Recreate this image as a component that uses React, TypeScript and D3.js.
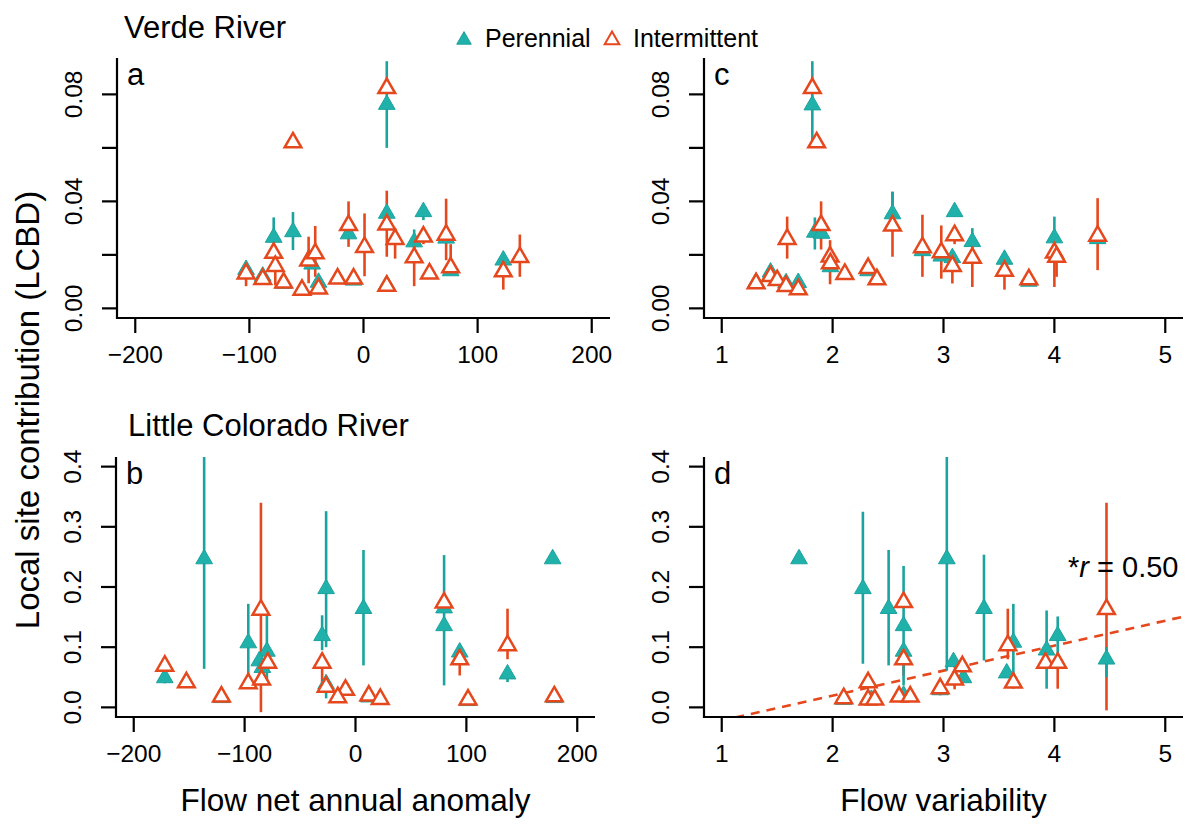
import React from 'react';
import * as d3 from 'd3';

// ---------- data: [x, LCBD, lower, upper] ----------
// Verde River, flow net annual anomaly (panel a)
const verdeAnomPerennial: number[][] = [
  [-102.9, 0.0145, 0.0145, 0.0145], [-88.3, 0.012, 0.012, 0.012], [-78.7, 0.0265, 0.017, 0.034],
  [-61.8, 0.0286, 0.0218, 0.036], [-45, 0.0165, 0.0165, 0.0165], [-39.4, 0.0097, 0.0097, 0.0097],
  [-8.7, 0.0105, 0.0105, 0.0105], [-13.1, 0.0278, 0.0278, 0.0278], [20.4, 0.0355, 0.0355, 0.0355],
  [20.4, 0.0089, 0.0089, 0.0089], [20.4, 0.0762, 0.06, 0.0924], [52.5, 0.0361, 0.033, 0.038],
  [44.4, 0.0248, 0.02, 0.0295], [72.4, 0.0262, 0.0262, 0.0262], [76.4, 0.014, 0.014, 0.014],
  [122.5, 0.018, 0.018, 0.018], [-70, 0.0093, 0.0093, 0.0093],
];
const verdeAnomIntermittent: number[][] = [
  [-61.8, 0.062, 0.062, 0.062], [-78.7, 0.0207, 0.0207, 0.0207], [-77.3, 0.0158, 0.0086, 0.02],
  [-102.9, 0.013, 0.0083, 0.013], [-88.3, 0.0109, 0.0109, 0.0109], [-70, 0.0096, 0.0096, 0.0096],
  [-53.9, 0.0069, 0.0069, 0.0069], [-48.1, 0.0178, 0.0094, 0.0268], [-42.3, 0.0205, 0.0118, 0.0308],
  [-39.4, 0.0074, 0.0074, 0.0074], [-22.7, 0.0111, 0.0111, 0.0111], [-8.7, 0.0111, 0.0111, 0.0111],
  [-13.1, 0.0311, 0.023, 0.04], [0.9, 0.0229, 0.012, 0.0355], [20.4, 0.0313, 0.0193, 0.044],
  [27.7, 0.0259, 0.0186, 0.03], [20.4, 0.0084, 0.0084, 0.0084], [20.4, 0.0823, 0.0823, 0.0823],
  [52.5, 0.0268, 0.024, 0.03], [44.4, 0.019, 0.0083, 0.024], [57.8, 0.013, 0.013, 0.013],
  [72.4, 0.0275, 0.018, 0.041], [76.4, 0.0153, 0.013, 0.024], [122.5, 0.0138, 0.007, 0.016],
  [137, 0.0191, 0.0118, 0.0276],
];
// Verde River, flow variability (panel c)
const verdeVarPerennial: number[][] = [
  [1.817, 0.076, 0.063, 0.0924], [1.84, 0.0284, 0.022, 0.034], [1.9, 0.028, 0.028, 0.028],
  [1.98, 0.0155, 0.0155, 0.0155], [1.44, 0.0135, 0.0135, 0.0135], [1.58, 0.0095, 0.0095, 0.0095],
  [1.69, 0.0096, 0.0096, 0.0096], [1.31, 0.0098, 0.0098, 0.0098], [2.32, 0.014, 0.014, 0.014],
  [2.54, 0.0353, 0.0353, 0.0436], [2.81, 0.0215, 0.0215, 0.0215], [2.98, 0.0195, 0.0195, 0.0195],
  [3.1, 0.0361, 0.0361, 0.0361], [3.08, 0.0189, 0.0189, 0.0189], [3.26, 0.0249, 0.02, 0.03],
  [3.55, 0.0183, 0.0183, 0.0183], [3.77, 0.0101, 0.0101, 0.0101], [4.0, 0.0263, 0.02, 0.0343],
  [4.39, 0.026, 0.026, 0.026],
];
const verdeVarIntermittent: number[][] = [
  [1.817, 0.0823, 0.0823, 0.0823], [1.856, 0.062, 0.062, 0.062], [1.59, 0.0259, 0.0186, 0.0343],
  [1.896, 0.0311, 0.022, 0.04], [1.977, 0.0193, 0.009, 0.0255], [1.98, 0.0168, 0.0168, 0.0168],
  [2.11, 0.0128, 0.0128, 0.0128], [1.31, 0.0093, 0.0093, 0.0093], [1.44, 0.012, 0.012, 0.012],
  [1.5, 0.0105, 0.0105, 0.0105], [1.58, 0.0083, 0.0083, 0.0083], [1.69, 0.0071, 0.0071, 0.0071],
  [2.32, 0.015, 0.015, 0.015], [2.4, 0.0108, 0.0108, 0.0108], [2.54, 0.0309, 0.0193, 0.0436],
  [2.81, 0.0228, 0.0118, 0.035], [2.98, 0.0209, 0.0111, 0.031], [3.1, 0.0273, 0.024, 0.03],
  [3.08, 0.0158, 0.0093, 0.019], [3.26, 0.0189, 0.008, 0.025], [3.55, 0.014, 0.007, 0.016],
  [3.77, 0.0108, 0.0108, 0.0108], [4.0, 0.0208, 0.008, 0.025], [4.02, 0.0192, 0.0118, 0.022],
  [4.39, 0.0271, 0.0143, 0.0412],
];
// Little Colorado River, flow net annual anomaly (panel b)
const lcrAnomPerennial: number[][] = [
  [-136.5, 0.2466, 0.064, 0.42], [-172, 0.049, 0.04, 0.055], [-120.9, 0.016, 0.016, 0.016],
  [-96.7, 0.107, 0.039, 0.172], [-79.9, 0.093, 0.04, 0.155], [-86.8, 0.077, 0.077, 0.077],
  [-84, 0.066, 0.066, 0.066], [-26.5, 0.197, 0.1, 0.326], [-30.1, 0.119, 0.095, 0.153],
  [-26.5, 0.039, 0.015, 0.045], [7.2, 0.164, 0.0697, 0.2615], [12, 0.017, 0.017, 0.017],
  [79.9, 0.165, 0.165, 0.165], [79.9, 0.1355, 0.0365, 0.253], [94, 0.0917, 0.08, 0.1],
  [101.5, 0.011, 0.011, 0.011], [137.1, 0.0553, 0.042, 0.06], [177.8, 0.2466, 0.2466, 0.2466],
  [179.3, 0.016, 0.016, 0.016],
];
const lcrAnomIntermittent: number[][] = [
  [-172, 0.069, 0.069, 0.069], [-152.5, 0.0415, 0.0415, 0.0415], [-120.9, 0.0177, 0.0177, 0.0177],
  [-96.7, 0.0398, 0.0398, 0.0398], [-85.3, 0.162, -0.008, 0.34], [-79.2, 0.074, 0.074, 0.074],
  [-84.7, 0.046, 0.046, 0.046], [-30.1, 0.074, 0.04, 0.09], [-26.5, 0.034, 0.034, 0.034],
  [-9, 0.029, 0.029, 0.029], [-16, 0.0166, 0.0166, 0.0166], [12, 0.0194, 0.0194, 0.0194],
  [22.3, 0.0138, 0.0138, 0.0138], [79.9, 0.174, 0.174, 0.174], [94, 0.0796, 0.053, 0.09],
  [101.5, 0.0128, 0.0128, 0.0128], [137.1, 0.103, 0.08, 0.164], [179.3, 0.018, 0.018, 0.018],
];
// Little Colorado River, flow variability (panel d)
const lcrVarPerennial: number[][] = [
  [1.697, 0.2466, 0.2466, 0.2466], [2.273, 0.197, 0.0725, 0.325], [2.505, 0.164, 0.0697, 0.2615],
  [2.64, 0.1355, 0.0365, 0.235], [2.64, 0.093, 0.093, 0.093], [2.64, 0.02, 0.02, 0.02],
  [3.03, 0.2466, 0.061, 0.42], [3.09, 0.0757, 0.0757, 0.0757], [3.18, 0.049, 0.049, 0.049],
  [3.365, 0.164, 0.078, 0.2537], [3.63, 0.108, 0.031, 0.172], [3.57, 0.057, 0.057, 0.057],
  [3.93, 0.095, 0.031, 0.161], [4.03, 0.119, 0.08, 0.151], [4.47, 0.08, 0.05, 0.1],
  [2.1, 0.013, 0.013, 0.013], [2.35, 0.013, 0.013, 0.013], [2.97, 0.029, 0.029, 0.029],
];
const lcrVarIntermittent: number[][] = [
  [2.64, 0.1747, 0.1747, 0.1747], [2.64, 0.0796, 0.053, 0.09], [2.32, 0.0415, 0.0415, 0.0415],
  [2.1, 0.015, 0.015, 0.015], [2.32, 0.0128, 0.0128, 0.0128], [2.38, 0.0128, 0.0128, 0.0128],
  [2.6, 0.0177, 0.0177, 0.0177], [2.7, 0.0177, 0.0177, 0.0177], [3.17, 0.068, 0.068, 0.068],
  [3.1, 0.046, 0.03, 0.05], [2.97, 0.0315, 0.02, 0.035], [3.58, 0.103, 0.08, 0.164],
  [3.63, 0.041, 0.041, 0.041], [3.92, 0.074, 0.074, 0.074], [4.03, 0.074, 0.031, 0.08],
  [4.47, 0.163, -0.005, 0.34],
];
// regression in panel d: [intercept, slope]
const lcrVarRegression = [-0.0635, 0.0415];

const anomalyTicks = [-200, -100, 0, 100, 200];
const variabilityTicks = [1, 2, 3, 4, 5];
const verdeYTicks = [0, 0.02, 0.04, 0.06, 0.08];
const verdeYLabels = [0, 0.04, 0.08];
const lcrYTicks = [0, 0.1, 0.2, 0.3, 0.4];
const lcrYLabels = [0, 0.1, 0.2, 0.3, 0.4];

const TEAL = '#20B2AA';
const TEAL_LINE = '#1BA39E';
const ORANGE = '#E5481D';
const FONT = "'Liberation Sans', Arial, Helvetica, sans-serif";

const S = 6.2;
function tri(cx: number, cy: number, s: number) {
  const r = 1.555 * s, xc = 1.347 * s, yc = 0.778 * s;
  return `M${cx},${cy - r}L${cx + xc},${cy + yc}L${cx - xc},${cy + yc}Z`;
}

type PanelProps = {
  id: string; letter: string;
  xDomain: [number, number]; xRange: [number, number];
  yDomain: [number, number]; yRange: [number, number];
  xTicks: number[]; yTicks: number[]; yLabels: number[]; yFmt: string;
  per: number[][]; int: number[][]; reg?: number[];
};

function Panel(p: PanelProps) {
  const x = d3.scaleLinear().domain(p.xDomain).range(p.xRange);
  const y = d3.scaleLinear().domain(p.yDomain).range(p.yRange);
  const [x0, x1] = p.xRange;
  const [yb, yt] = p.yRange;
  const fmt = d3.format(p.yFmt);
  const bar = (d: number[], i: number, col: string) =>
    d[2] === d[3] ? null : (
      <line key={i} x1={x(d[0])} x2={x(d[0])} y1={y(d[2])} y2={y(d[3])} stroke={col} strokeWidth={2.6} />
    );
  let regLine = null;
  if (p.reg) {
    const xs = [p.xDomain[0], p.xDomain[1]];
    regLine = (
      <line x1={x(xs[0])} y1={y(p.reg[0] + p.reg[1] * xs[0])} x2={x(xs[1])} y2={y(p.reg[0] + p.reg[1] * xs[1])}
        stroke={ORANGE} strokeWidth={2.6} strokeDasharray="9,7" />
    );
  }
  return (
    <g>
      <defs>
        <clipPath id={`clip-${p.id}`}>
          <rect x={x0} y={yt} width={x1 - x0} height={yb - yt} />
        </clipPath>
      </defs>
      <g clipPath={`url(#clip-${p.id})`}>
        {regLine}
        {p.int.map((d, i) => bar(d, i, ORANGE))}
        {p.per.map((d, i) => bar(d, i, TEAL_LINE))}
        {p.per.map((d, i) => (
          <path key={i} d={tri(x(d[0]), y(d[1]), S)} fill={TEAL} stroke={TEAL_LINE} strokeWidth={1} />
        ))}
        {p.int.map((d, i) => (
          <path key={i} d={tri(x(d[0]), y(d[1]), S)} fill="#fff" stroke={ORANGE} strokeWidth={2.5} />
        ))}
      </g>
      {/* L-shaped box */}
      <path d={`M${x0},${yt}V${yb}H${x1}`} fill="none" stroke="#000" strokeWidth={2.2} />
      {p.xTicks.map((t) => (
        <g key={t}>
          <line x1={x(t)} x2={x(t)} y1={yb} y2={yb + 15} stroke="#000" strokeWidth={2.2} />
          <text x={x(t)} y={yb + 45} textAnchor="middle" fontSize={24.5} fontFamily={FONT}>
            {t < 0 ? `\u2212${Math.abs(t)}` : `${t}`}
          </text>
        </g>
      ))}
      {p.yTicks.map((t) => (
        <line key={t} x1={x0 - 15} x2={x0} y1={y(t)} y2={y(t)} stroke="#000" strokeWidth={2.2} />
      ))}
      {p.yLabels.map((t) => (
        <text key={t} transform={`translate(${x0 - 35},${y(t)}) rotate(-90)`} textAnchor="middle"
          fontSize={24.5} fontFamily={FONT}>{fmt(t)}</text>
      ))}
      <text x={x0 + 10} y={yt + 27} fontSize={31} fontFamily={FONT}>{p.letter}</text>
    </g>
  );
}

export default function App() {
  const varDom: [number, number] = [0.84, 5.16];
  const anomDom: [number, number] = [-216, 216];
  return (
    <svg width={1193} height={826} style={{ position: 'absolute', left: 0, top: 0, background: '#fff' }}>
      <rect width={1193} height={826} fill="#fff" />
      <Panel id="a" letter="a" xDomain={anomDom} xRange={[117, 610]} yDomain={[-0.0036, 0.0936]} yRange={[318, 58]}
        xTicks={anomalyTicks} yTicks={verdeYTicks} yLabels={verdeYLabels} yFmt=".2f"
        per={verdeAnomPerennial} int={verdeAnomIntermittent} />
      <Panel id="c" letter="c" xDomain={varDom} xRange={[704, 1183]} yDomain={[-0.0036, 0.0936]} yRange={[318, 58]}
        xTicks={variabilityTicks} yTicks={verdeYTicks} yLabels={verdeYLabels} yFmt=".2f"
        per={verdeVarPerennial} int={verdeVarIntermittent} />
      <Panel id="b" letter="b" xDomain={anomDom} xRange={[116, 595]} yDomain={[-0.016, 0.416]} yRange={[717, 457]}
        xTicks={anomalyTicks} yTicks={lcrYTicks} yLabels={lcrYLabels} yFmt=".1f"
        per={lcrAnomPerennial} int={lcrAnomIntermittent} />
      <Panel id="d" letter="d" xDomain={varDom} xRange={[704, 1183]} yDomain={[-0.016, 0.416]} yRange={[717, 457]}
        xTicks={variabilityTicks} yTicks={lcrYTicks} yLabels={lcrYLabels} yFmt=".1f"
        per={lcrVarPerennial} int={lcrVarIntermittent} reg={lcrVarRegression} />

      <text x={124} y={38} fontSize={31} fontFamily={FONT}>Verde River</text>
      <text x={128} y={436} fontSize={31} fontFamily={FONT}>Little Colorado River</text>

      <path d={tri(464, 40, 5.4)} fill={TEAL} stroke={TEAL_LINE} strokeWidth={1} />
      <text x={485} y={47} fontSize={25} fontFamily={FONT}>Perennial</text>
      <path d={tri(612, 40, 5.4)} fill="#fff" stroke={ORANGE} strokeWidth={2} />
      <text x={633} y={47} fontSize={25} fontFamily={FONT}>Intermittent</text>

      <text transform="translate(39,410) rotate(-90)" textAnchor="middle" fontSize={33} fontFamily={FONT}>
        Local site contribution (LCBD)
      </text>
      <text x={355.5} y={811} textAnchor="middle" fontSize={31.5} fontFamily={FONT}>Flow net annual anomaly</text>
      <text x={943.5} y={811} textAnchor="middle" fontSize={31.5} fontFamily={FONT}>Flow variability</text>

      <text x={1068} y={577} fontSize={29} fontFamily={FONT}>
        *<tspan fontStyle="italic">r</tspan> = 0.50
      </text>
    </svg>
  );
}
